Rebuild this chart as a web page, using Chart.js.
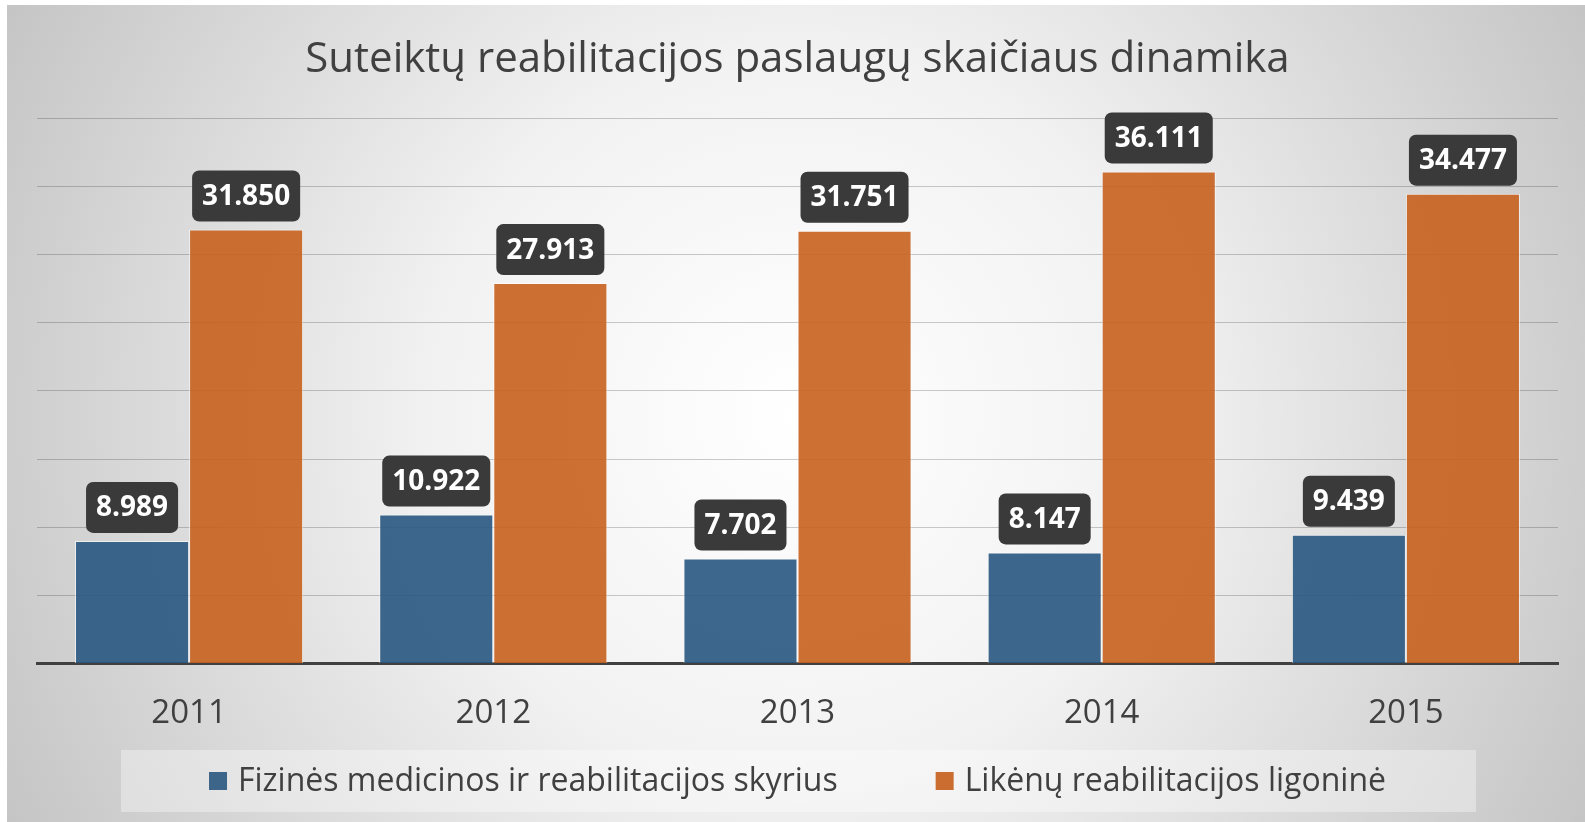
<!DOCTYPE html>
<html>
<head>
<meta charset="utf-8">
<script src="https://cdn.jsdelivr.net/npm/chart.js@4"></script>
<style>
  html, body { margin: 0; padding: 0; background: #fff; }
  #wrap { position: absolute; left: 7px; top: 5px; width: 1578px; height: 817px; }
</style>
</head>
<body>
<div id="wrap"><canvas id="chart" width="1578" height="817"></canvas></div>
<script>
const years = ['2011', '2012', '2013', '2014', '2015'];
const fizines = [8989, 10922, 7702, 8147, 9439];
const likenai = [31850, 27913, 31751, 36111, 34477];
const seriesNames = ['Fizinės medicinos ir reabilitacijos skyrius', 'Likėnų reabilitacijos ligoninė'];
const seriesColors = ['rgba(40,86,128,0.9)', 'rgba(200,96,30,0.9)'];
const legendColors = ['#3d6489', '#cb6c30'];
const yMin = 0, yMax = 40000, yStep = 5000;
const chartTitle = 'Suteiktų reabilitacijos paslaugų skaičiaus dinamika';

function fmt(v) {
  // lithuanian style in the picture: dot as thousands separator
  return String(v).replace(/\B(?=(\d{3})+(?!\d))/g, '.');
}

const bgPlugin = {
  id: 'bg',
  beforeDraw(chart) {
    const ctx = chart.ctx, w = chart.width, h = chart.height;
    const g = ctx.createRadialGradient(w / 2, h / 2, 0, w / 2, h / 2, 900);
    g.addColorStop(0, '#ffffff');
    g.addColorStop(0.4, '#f2f2f2');
    g.addColorStop(1, '#c4c4c4');
    ctx.save();
    ctx.fillStyle = g;
    ctx.fillRect(0, 0, w, h);
    ctx.restore();
  }
};

const labelPlugin = {
  id: 'boxLabels',
  afterDatasetsDraw(chart) {
    const ctx = chart.ctx;
    ctx.save();
    ctx.font = 'bold 28px "Open Sans"';
    ctx.textAlign = 'center';
    ctx.textBaseline = 'middle';
    chart.data.datasets.forEach((ds, di) => {
      chart.getDatasetMeta(di).data.forEach((bar, i) => {
        const txt = fmt(ds.data[i]);
        const tw = ctx.measureText(txt).width;
        const bw = tw + 20, bh = 51;
        const x = bar.x - bw / 2, y = bar.y - 8 - bh;
        ctx.fillStyle = '#3a3a3a';
        ctx.beginPath();
        ctx.roundRect(x, y, bw, bh, 7);
        ctx.fill();
        ctx.fillStyle = '#ffffff';
        ctx.fillText(txt, bar.x, y + bh / 2 + 1);
      });
    });
    ctx.restore();
  }
};

const legendPlugin = {
  id: 'boxLegend',
  afterDraw(chart) {
    const ctx = chart.ctx;
    const box = { x: 114, y: 745, w: 1355, h: 62 };
    ctx.save();
    ctx.fillStyle = 'rgba(255,255,255,0.35)';
    ctx.fillRect(box.x, box.y, box.w, box.h);
    ctx.font = '32px "Open Sans"';
    ctx.textBaseline = 'middle';
    const sq = 18, gap = 11, between = 98;
    const widths = chart.data.datasets.map(ds => sq + gap + ctx.measureText(ds.label).width);
    const total = widths.reduce((a, b) => a + b, 0) + between * (widths.length - 1);
    let x = box.x + box.w / 2 - total / 2 - 1;
    const cy = box.y + box.h / 2;
    chart.data.datasets.forEach((ds, i) => {
      ctx.fillStyle = legendColors[i];
      ctx.fillRect(x, cy - sq / 2, sq, sq);
      ctx.fillStyle = '#404040';
      ctx.fillText(ds.label, x + sq + gap, cy + 1);
      x += widths[i] + between;
    });
    ctx.restore();
  }
};

new Chart(document.getElementById('chart'), {
  type: 'bar',
  data: {
    labels: years,
    datasets: [
      { label: seriesNames[0], data: fizines, backgroundColor: seriesColors[0], borderColor: 'rgba(255,255,255,0.6)', borderWidth: 1 },
      { label: seriesNames[1], data: likenai, backgroundColor: seriesColors[1], borderColor: 'rgba(255,255,255,0.6)', borderWidth: 1 }
    ]
  },
  options: {
    responsive: false,
    animation: false,
    layout: { padding: { left: 30, right: 27, top: 0, bottom: 59 } },
    datasets: { bar: { categoryPercentage: 0.75, barPercentage: 1.0 } },
    scales: {
      x: {
        z: 1,
        grid: { display: false, drawTicks: false },
        border: { display: true, color: '#404040', width: 3 },
        ticks: { color: '#404040', font: { family: 'Open Sans', size: 33 }, padding: 30 }
      },
      y: {
        min: yMin, max: yMax,
        grid: { color: 'rgba(0,0,0,0.2)', drawTicks: false, lineWidth: 1 },
        border: { display: false },
        ticks: { display: false, stepSize: yStep }
      }
    },
    plugins: {
      legend: { display: false },
      tooltip: { enabled: false },
      title: {
        display: true,
        text: chartTitle,
        color: '#404040',
        font: { family: 'Open Sans', size: 42, weight: 'normal' },
        padding: { top: 30, bottom: 33 }
      }
    }
  },
  plugins: [bgPlugin, labelPlugin, legendPlugin]
});
</script>
</body>
</html>
